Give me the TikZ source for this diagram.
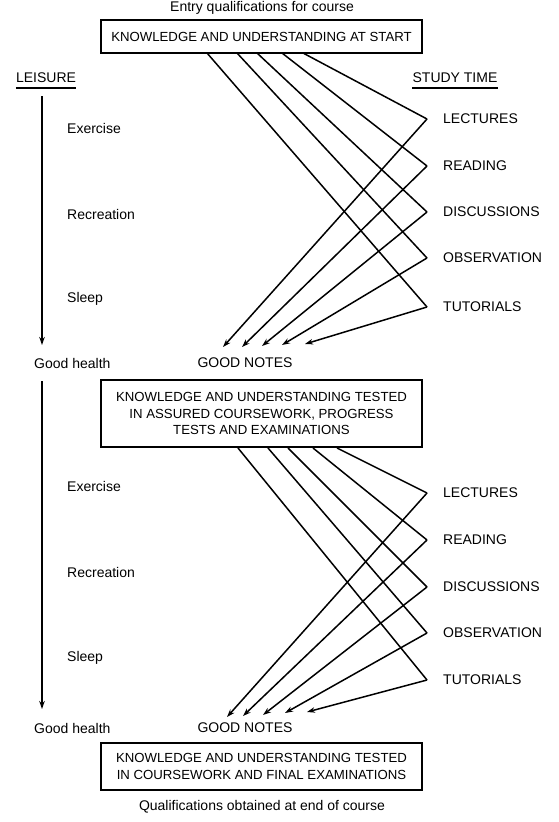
\documentclass[tikz,border=0pt]{standalone}
\usepackage{fontspec}
\setmainfont{Liberation Sans}
\usetikzlibrary{arrows.meta}

\begin{document}
\begin{tikzpicture}[
		x=1pt, y=-1pt,
		every node/.style={font=\fontsize{14}{16.5}\selectfont, inner sep=0pt},
		box/.style={draw, line width=1.6pt, minimum width=321pt, align=center, font=\fontsize{13.2}{16.5}\selectfont},
		item/.style={anchor=west},
		link/.style={line width=1.5pt},
		arrow/.style={line width=1.5pt, -{Stealth[length=8pt, width=5.5pt]}},
	]
	\useasboundingbox (0,0) rectangle (558,822);

	\node (entry) at (262,8) {Entry qualifications for course};
	\node[box, minimum height=33pt] (start) at (261.5,36.5) {KNOWLEDGE AND UNDERSTANDING AT START};
	\node[box, minimum height=67pt] (mid) at (261.5,413.5) {KNOWLEDGE AND UNDERSTANDING TESTED\\IN ASSURED COURSEWORK, PROGRESS\\TESTS AND EXAMINATIONS};
	\node[box, minimum height=47pt] (final) at (261.5,766.5) {KNOWLEDGE AND UNDERSTANDING TESTED\\IN COURSEWORK AND FINAL EXAMINATIONS};
	\node (quals) at (262,807) {Qualifications obtained at end of course};

	% headings
	\node (leis) at (46,78) {LEISURE};
	\node (study) at (455,78) {STUDY TIME};
	\draw[link] ([yshift=-5pt]leis.south west) -- ([yshift=-5pt]leis.south east);
	\draw[link] ([yshift=-5pt]study.south west) -- ([yshift=-5pt]study.south east);

	% leisure, first part
	\coordinate (la1) at (42,96);
	\coordinate (lb1) at (42,345);
	\draw[arrow] (la1) -- (lb1);
	\node[item] (ex1) at (67,128) {Exercise};
	\node[item] (rec1) at (67,214) {Recreation};
	\node[item] (sl1) at (67,299) {Sleep};
	\node[item] (gh1) at (34,363) {Good health};
	\node (gn1) at (245,363) {GOOD NOTES};

	% leisure, second part
	\coordinate (la2) at (42,381);
	\coordinate (lb2) at (42,709);
	\draw[arrow] (la2) -- (lb2);
	\node[item] (ex2) at (67,486) {Exercise};
	\node[item] (rec2) at (67,572) {Recreation};
	\node[item] (sl2) at (67,658) {Sleep};
	\node[item] (gh2) at (34,728) {Good health};
	\node (gn2) at (245,728) {GOOD NOTES};

	% study time, first part
	\foreach \n/\lab/\y/\sx/\tx/\ty in {1/LECTURES/119/303/223/347, 2/READING/166/282/242/347,
			3/DISCUSSIONS/212/257/262/346, 4/OBSERVATION/258/237/282/345, 5/TUTORIALS/307/207/305/344} {
		\node[item] (a\n) at (443,\y) {\lab};
		\coordinate (as\n) at (\sx,53);
		\coordinate (av\n) at (427,\y);
		\coordinate (at\n) at (\tx,\ty);
		\draw[link] (as\n) -- (av\n);
		\draw[arrow] (av\n) -- (at\n);
	}

	% study time, second part
	\foreach \n/\lab/\y/\sx/\tx/\ty in {1/LECTURES/493/337/227/717, 2/READING/540/313/243/716,
			3/DISCUSSIONS/587/288/263/715, 4/OBSERVATION/633/268/285/713, 5/TUTORIALS/680/238/307/712} {
		\node[item] (b\n) at (443,\y) {\lab};
		\coordinate (bs\n) at (\sx,448);
		\coordinate (bv\n) at (427,\y);
		\coordinate (bt\n) at (\tx,\ty);
		\draw[link] (bs\n) -- (bv\n);
		\draw[arrow] (bv\n) -- (bt\n);
	}
\end{tikzpicture}
\end{document}
